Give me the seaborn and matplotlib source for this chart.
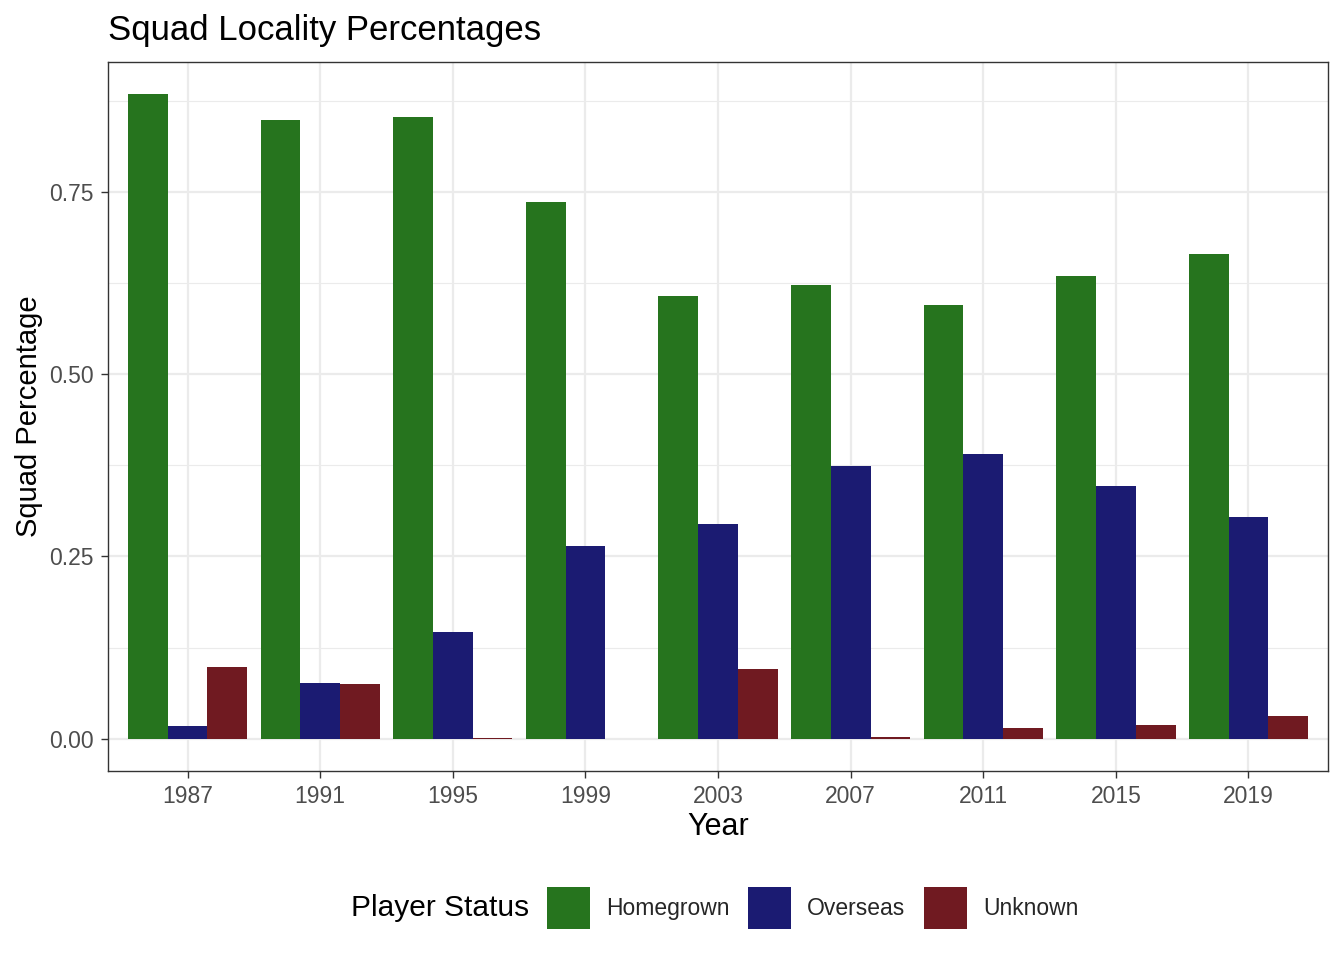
import matplotlib
matplotlib.use("Agg")
import matplotlib.pyplot as plt
import seaborn as sns
import pandas as pd
import numpy as np
from matplotlib.patches import Patch
from matplotlib.ticker import MultipleLocator

years = ["1987", "1991", "1995", "1999", "2003", "2007", "2011", "2015", "2019"]
statuses = ["Homegrown", "Overseas", "Unknown"]
homegrown = [0.8836, 0.848, 0.852, 0.7356, 0.607, 0.622, 0.5945, 0.634, 0.664]
overseas = [0.0178, 0.0767, 0.1466, 0.2644, 0.2945, 0.374, 0.3904, 0.3466, 0.304]
unknown = [0.0986, 0.0753, 0.0014, 0.0, 0.0959, 0.0027, 0.015, 0.019, 0.0315]
colors = ["#26741E", "#1B1B72", "#701A21"]

rows = []
for s, vals in zip(statuses, [homegrown, overseas, unknown]):
    for y, v in zip(years, vals):
        rows.append({"Year": y, "Player Status": s, "Squad Percentage": v})
df = pd.DataFrame(rows)

sns.set_theme(style="white")
plt.rcParams["font.family"] = ["Liberation Sans", "DejaVu Sans"]

fig = plt.figure(figsize=(13.44, 9.6), dpi=100)
ax = fig.add_axes([108/1344, 1-771/960, (1328-108)/1344, (771-62)/960])

sns.barplot(data=df, x="Year", y="Squad Percentage", hue="Player Status",
            hue_order=statuses, order=years, palette=colors, width=0.9,
            saturation=1, errorbar=None, ax=ax, legend=False, edgecolor="none", linewidth=0)

ymax = max(homegrown)
ax.set_xlim(-0.6, 8.6)
ax.set_ylim(-0.05*ymax, ymax*1.05)
ax.yaxis.set_major_locator(MultipleLocator(0.25))
ax.yaxis.set_minor_locator(MultipleLocator(0.125))
ax.set_yticks([0, 0.25, 0.5, 0.75])
ax.set_yticklabels(["0.00", "0.25", "0.50", "0.75"])
ax.set_axisbelow(True)
ax.grid(which="major", axis="both", color="#EBEBEB", linewidth=1.6)
ax.grid(which="minor", axis="y", color="#EBEBEB", linewidth=0.8)
ax.tick_params(axis="both", which="major", length=5, width=1, color="#333333",
               labelsize=16.5, labelcolor="#4D4D4D", pad=5, left=True, bottom=True)
ax.tick_params(axis="y", which="minor", length=0)
for sp in ax.spines.values():
    sp.set_color("#333333")
    sp.set_linewidth(1.0)
    sp.set_visible(True)

ax.set_xlabel("Year", fontsize=22, color="black", labelpad=3)
ax.set_ylabel("Squad Percentage", fontsize=21, color="black", labelpad=5)
ax.set_title("Squad Locality Percentages", fontsize=25, loc="left", pad=16, color="black")

handles = [Patch(facecolor=c, edgecolor="none", label=s) for c, s in zip(colors, statuses)]
leg = fig.legend(handles=handles, loc="center left", bbox_to_anchor=(547/1344, 1-908/960),
                 ncol=3, frameon=False, fontsize=16.5, handlelength=1.88, handleheight=2.44,
                 handletextpad=0.7, columnspacing=0.8, borderpad=0, borderaxespad=0)
fig.text(529/1344, 1-908/960, "Player Status", ha="right", va="center", fontsize=21.5, color="black")

fig.savefig("out.png", dpi=100)
